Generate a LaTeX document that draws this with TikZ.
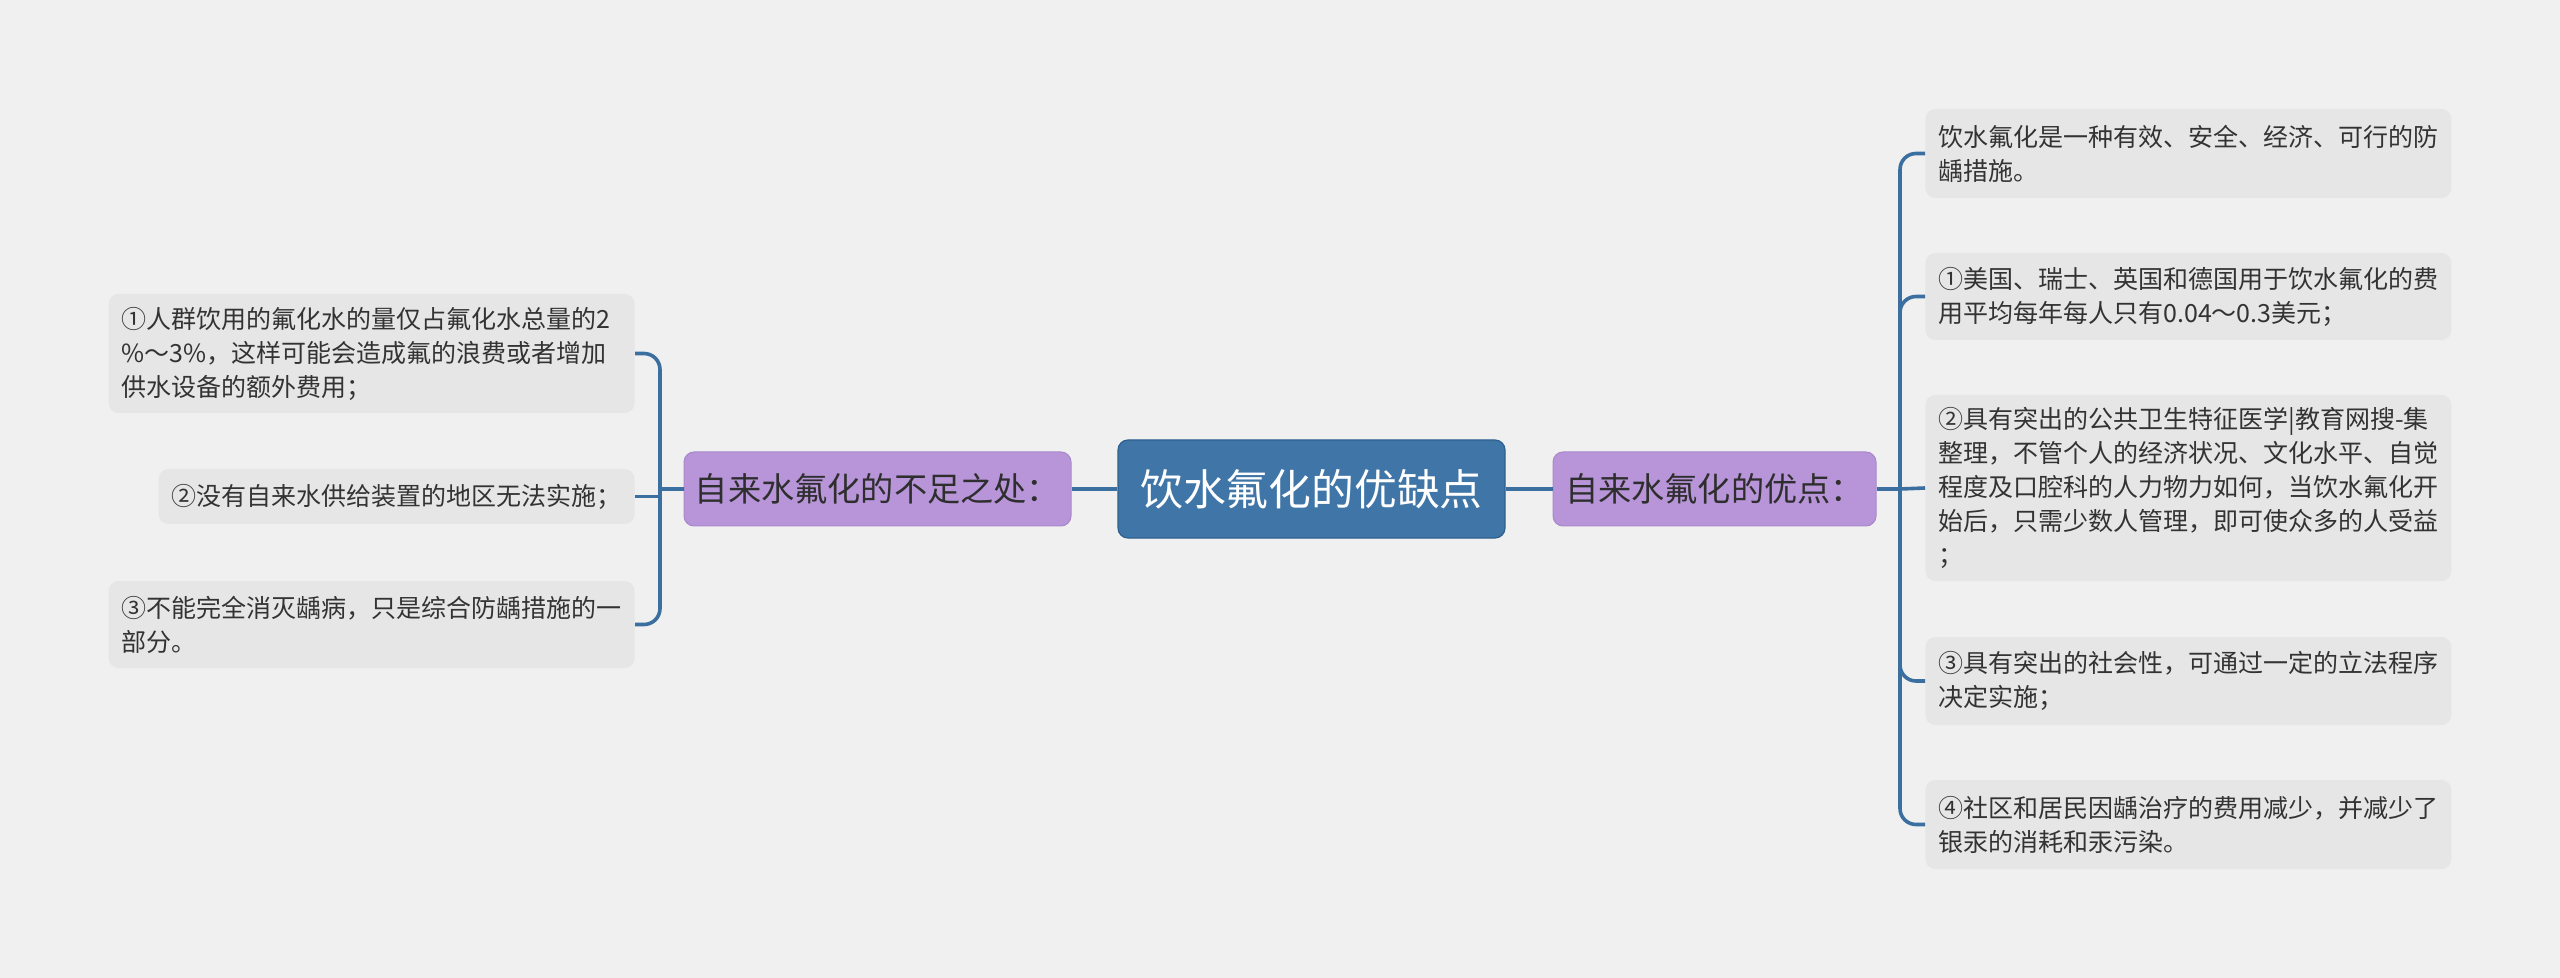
\documentclass[tikz,border=0pt]{standalone}
\usepackage{fontspec}
\setmainfont{Noto Sans CJK SC}
\definecolor{bg}{HTML}{F0F0F0}
\definecolor{leaffill}{HTML}{E6E6E6}
\definecolor{mainfill}{HTML}{3F75A7}
\definecolor{mainborder}{HTML}{2F5F8E}
\definecolor{subfill}{HTML}{B895D9}
\definecolor{subborder}{HTML}{A888CB}
\definecolor{linkcol}{HTML}{3B6F9F}
\definecolor{txt}{HTML}{333333}
\tikzset{
  leafbox/.style={fill=leaffill, rounded corners=5pt, text=txt, align=left,
    inner xsep=6.5pt, inner ysep=0pt,
    font=\fontsize{12.5pt}{17pt}\selectfont},
  subbox/.style={fill=subfill, draw=subborder, line width=0.5pt, rounded corners=5pt,
    text=txt!90!black, minimum width=193.5pt, minimum height=37pt, inner sep=0pt,
    font=\fontsize{16.6pt}{19pt}\selectfont},
  mainbox/.style={fill=mainfill, draw=mainborder, line width=0.6pt, rounded corners=5pt,
    text=white, minimum width=193.5pt, minimum height=49pt, inner sep=0pt,
    font=\fontsize{21.4pt}{25pt}\selectfont},
  link/.style={draw=linkcol, line width=1.8pt},
  curvelink/.style={link, rounded corners=8pt}
}
\begin{document}
\begin{tikzpicture}[x=0.5pt,y=-0.5pt]
\fill[bg] (0,0) rectangle (2560,978);
\useasboundingbox (0,0) rectangle (2560,978);

% main nodes
\node[mainbox] (c) at (1311.5,489) {饮水氟化的优缺点};
\node[subbox] (lp) at (877.5,489) {自来水氟化的不足之处：};
\node[subbox, minimum width=161.5pt] (rp) at (1714.5,489) {自来水氟化的优点：};

% right leaves
\node[leafbox, anchor=west, text width=250pt, minimum height=44.5pt] (r0) at (1925,153.5)
  {饮水氟化是一种有效、安全、经济、可行的防\\龋措施。};
\node[leafbox, anchor=west, text width=250pt, minimum height=43.5pt] (r1) at (1925,296.5)
  {①美国、瑞士、英国和德国用于饮水氟化的费\\用平均每年每人只有0.04～0.3美元；};
\node[leafbox, anchor=west, text width=250pt, minimum height=93pt] (r2) at (1925,488)
  {②具有突出的公共卫生特征医学|教育网搜-集\\整理，不管个人的经济状况、文化水平、自觉\\程度及口腔科的人力物力如何，当饮水氟化开\\始后，只需少数人管理，即可使众多的人受益\\；};
\node[leafbox, anchor=west, text width=250pt, minimum height=44pt] (r3) at (1925,681)
  {③具有突出的社会性，可通过一定的立法程序\\决定实施；};
\node[leafbox, anchor=west, text width=250pt, minimum height=44.5pt] (r4) at (1925,824.5)
  {④社区和居民因龋治疗的费用减少，并减少了\\银汞的消耗和汞污染。};

% left leaves
\node[leafbox, anchor=east, text width=250pt, minimum height=59.5pt] (l1) at (635,353.5)
  {①人群饮用的氟化水的量仅占氟化水总量的2\\\%～3\%，这样可能会造成氟的浪费或者增加\\供水设备的额外费用；};
\node[leafbox, anchor=east, minimum height=27.5pt] (l2) at (635,496.5)
  {②没有自来水供给装置的地区无法实施；};
\node[leafbox, anchor=east, text width=250pt, minimum height=43.5pt] (l3) at (635,624.5)
  {③不能完全消灭龋病，只是综合防龋措施的一\\部分。};

% junction coordinates
\coordinate (rj) at (1900,489);
\coordinate (lj) at (660,489);

% connectors
\draw[link] (lp.east) -- (c.west);
\draw[link] (c.east) -- (rp.west);
\draw[link] (rp.east) -- (rj);
\draw[link] (lp.west) -- (lj);

\draw[curvelink] (rj) |- (r0.west);
\draw[curvelink] (rj) |- (r1.west);
\draw[link] (rj) -- (r2.west);
\draw[curvelink] (rj) |- (r3.west);
\draw[curvelink] (rj) |- (r4.west);

\draw[curvelink] (lj) |- (l1.east);
\draw[link] (lj) -- (lj |- l2.east) -- (l2.east);
\draw[curvelink] (lj) |- (l3.east);
\end{tikzpicture}
\end{document}
